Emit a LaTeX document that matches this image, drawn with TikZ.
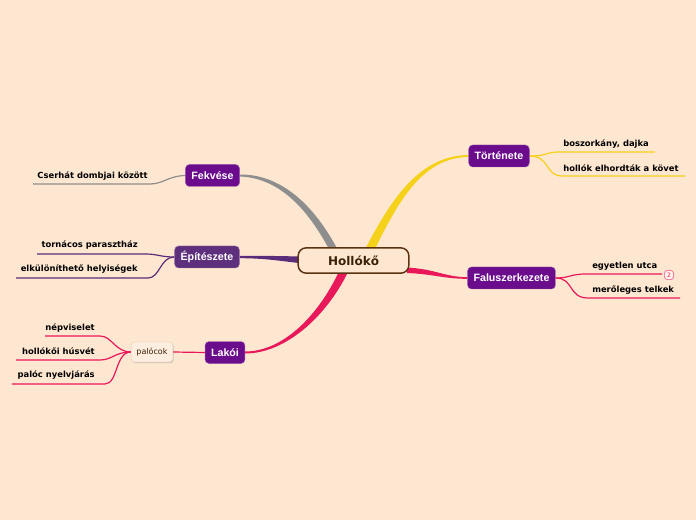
\documentclass[tikz,border=0pt]{standalone}
\usepackage{fontspec}
\setmainfont{DejaVu Sans}
\newfontfamily\topicfont{Liberation Sans}
\usetikzlibrary{calc,shadows}
\pgfdeclarelayer{bottom}
\pgfdeclarelayer{branches}
\pgfsetlayers{bottom,branches,main}
\definecolor{bg}{HTML}{FEE7D0}
\definecolor{subfill}{HTML}{FDEEE0}
\definecolor{topicpurple}{HTML}{6B0C8C}
\definecolor{archpurple}{HTML}{5E2F7D}
\definecolor{brownline}{HTML}{5C3311}
\definecolor{browntext}{HTML}{3A2008}
\definecolor{yel}{HTML}{F6D11A}
\definecolor{gry}{HTML}{8E8E8E}
\definecolor{pnk}{HTML}{E8185B}
\definecolor{archline}{HTML}{5B2C7A}
\tikzset{
  central/.style={draw=brownline, line width=1.1pt, fill=bg, rounded corners=6pt,
    minimum width=83pt, minimum height=19pt, font=\bfseries\fontsize{9}{10}\selectfont, text=browntext},
  topic/.style={fill=topicpurple, draw=topicpurple!70!white, line width=0.3pt, rounded corners=3pt,
    minimum height=16.5pt, inner xsep=4.5pt, font=\topicfont\bfseries\fontsize{8}{9}\selectfont, text=white},
  leaf/.style={font=\bfseries\fontsize{6.3}{7}\selectfont, text=black, inner sep=0pt},
  sub/.style={fill=subfill, draw=brown!40, line width=0.3pt, rounded corners=2.5pt,
    minimum height=15pt, inner xsep=4pt, font=\fontsize{6}{7}\selectfont, text=browntext,
    drop shadow={shadow xshift=0.6pt, shadow yshift=-0.8pt, opacity=0.35}},
  thin/.style={line width=0.9pt},
}
\begin{document}
\begin{tikzpicture}[x=0.75pt,y=-0.75pt]
\begin{pgfonlayer}{bottom}
\fill[bg] (0,0) rectangle (696,520);
\end{pgfonlayer}
\useasboundingbox (0,0) rectangle (696,520);

% nodes
\node[central] (c) at (353.5,260.5) {Hollókő};
\node[topic] (tor) at (499,156) {Története};
\node[topic] (fal) at (511.5,278) {Faluszerkezete};
\node[topic] (fek) at (212.5,175.5) {Fekvése};
\node[topic, fill=archpurple, draw=archpurple!70!white] (epi) at (207,257) {Építészete};
\node[topic] (lak) at (225,352.5) {Lakói};
\node[sub] (pal) at (152,352) {palócok};

% leaf texts
\node[leaf, anchor=west] (l1) at (563,144) {boszorkány, dajka};
\node[leaf, anchor=west] (l2) at (563,168) {hollók elhordták a követ};
\node[leaf, anchor=west] (l3) at (592,266.5) {egyetlen utca};
\node[leaf, anchor=west] (l4) at (592,290) {merőleges telkek};
\node[leaf, anchor=east] (l5) at (148,176) {Cserhát dombjai között};
\node[leaf, anchor=east] (l6) at (138,245.5) {tornácos parasztház};
\node[leaf, anchor=east] (l7) at (138,269.5) {elkülöníthető helyiségek};
\node[leaf, anchor=east] (l8) at (95,328) {népviselet};
\node[leaf, anchor=east] (l9) at (95,351.5) {hollókői húsvét};
\node[leaf, anchor=east] (l10) at (95,375.5) {palóc nyelvjárás};

% leaf underline ends
\coordinate (e1a) at (655,152);
\coordinate (e2a) at (685,176);
\coordinate (e3a) at (662,274);
\coordinate (e4a) at (680,298);
\coordinate (e5a) at (33,184);  \coordinate (e5b) at (150,184);
\coordinate (e6a) at (37,254);  \coordinate (e6b) at (145,254);
\coordinate (e7a) at (16,278);  \coordinate (e7b) at (148,278);
\coordinate (e8a) at (45,336);  \coordinate (e8b) at (100,336);
\coordinate (e9a) at (16,360);  \coordinate (e9b) at (100,360);
\coordinate (e10a) at (12,384); \coordinate (e10b) at (105,384);

% main tapered branches
\begin{pgfonlayer}{branches}
\fill[gry] ($(fek.east)+(0,-1)$) .. controls (286,174) and (318,213) .. (336.5,247.5)
  -- (330,251) .. controls (312,217) and (284,178) .. ($(fek.east)+(0,1)$) -- cycle;
\fill[yel] (366,247.5) .. controls (392,198) and (420,155.5) .. ($(tor.west)+(0,-1)$)
  -- ($(tor.west)+(0,1)$) .. controls (422,157.5) and (398,202) .. (374,251) -- cycle;
\fill[archline] ($(epi.east)+(0,-1.2)$) .. controls (265,255.8) and (280,256) .. (299,256.5)
  -- (299,263) .. controls (280,261) and (265,258.2) .. ($(epi.east)+(0,1.2)$) -- cycle;
\fill[pnk] (347,274) .. controls (326,316) and (286,353.5) .. ($(lak.east)+(0,1)$)
  -- ($(lak.east)+(0,-1)$) .. controls (284,351.5) and (319,314) .. (339,271.5) -- cycle;
\fill[pnk] (407,267.5) .. controls (435,269) and (445,277) .. ($(fal.west)+(0,-0.8)$)
  -- ($(fal.west)+(0,0.8)$) .. controls (445,279) and (433,274) .. (407,273) -- cycle;

% thin branches
\draw[thin, yel] (tor.east) .. controls (548,156) and (545,152) .. (560,152) -- (e1a);
\draw[thin, yel] (tor.east) .. controls (550,156) and (545,176) .. (562,176) -- (e2a);
\draw[thin, pnk] (fal.east) .. controls (570,278) and (570,274) .. (586,274) -- (e3a);
\draw[thin, pnk] (fal.east) .. controls (574,278) and (568,298) .. (588,298) -- (e4a);
\draw[thin, gry] (fek.west) .. controls (168,176) and (163,184) .. (e5b) -- (e5a);
\draw[thin, archline] (epi.west) .. controls (160,257) and (158,254) .. (e6b) -- (e6a);
\draw[thin, archline] (epi.west) .. controls (160,257) and (160,278) .. (e7b) -- (e7a);
\draw[thin, pnk] (pal.west) .. controls (115,352) and (112,336) .. (e8b) -- (e8a);
\draw[thin, pnk] (pal.west) .. controls (115,352) and (112,360) .. (e9b) -- (e9a);
\draw[thin, pnk] (pal.west) .. controls (115,352) and (118,384) .. (e10b) -- (e10a);
\draw[thin, pnk] (lak.west) -- (pal.east);
\end{pgfonlayer}

% badge
\node[draw=pnk!70, fill=white!60!bg, line width=0.5pt, rounded corners=2.5pt, minimum size=7pt, inner sep=0pt,
  font=\fontsize{4.5}{5}\selectfont, text=pnk] (badge) at (669,275) {2};
\end{tikzpicture}
\end{document}
